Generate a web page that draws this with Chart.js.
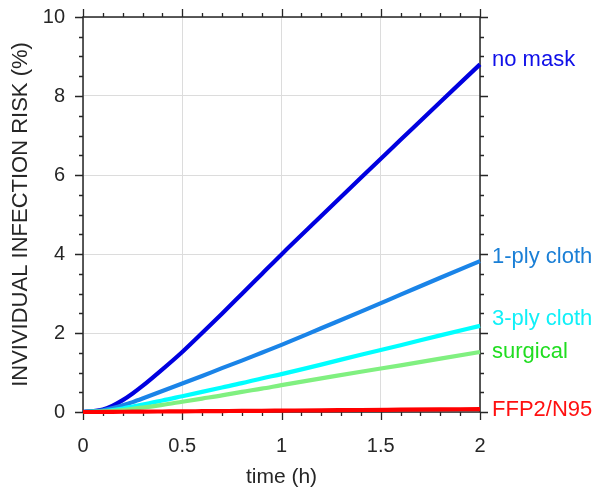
<!DOCTYPE html>
<html>
<head>
<meta charset="utf-8">
<script src="https://cdn.jsdelivr.net/npm/chart.js@4"></script>
<style>
  html, body { margin: 0; padding: 0; background: #ffffff; }
  #wrap { width: 599px; height: 490px; }
</style>
</head>
<body>
<div id="wrap"><canvas id="c" width="599" height="490"></canvas></div>
<script>
// ---- data ----
const timeH      = [0, 0.1, 0.15, 0.2, 0.25, 0.3, 0.4, 0.5, 0.6, 0.7, 0.8, 0.9, 1.0, 1.2, 1.4, 1.6, 1.8, 2.0];
const noMask     = [0, 0.06, 0.16, 0.3, 0.47, 0.66, 1.08, 1.52, 2.0, 2.49, 2.99, 3.49, 3.99, 4.96, 5.93, 6.89, 7.85, 8.8];
const ply1Cloth  = [0, 0.04, 0.1, 0.17, 0.25, 0.34, 0.53, 0.72, 0.91, 1.11, 1.3, 1.5, 1.7, 2.12, 2.54, 2.97, 3.4, 3.82];
const ply3Cloth  = [0, 0.02, 0.05, 0.09, 0.14, 0.19, 0.29, 0.4, 0.51, 0.62, 0.73, 0.85, 0.96, 1.2, 1.45, 1.69, 1.94, 2.18];
const surgical   = [0, 0.01, 0.03, 0.05, 0.08, 0.11, 0.18, 0.26, 0.34, 0.42, 0.51, 0.59, 0.68, 0.85, 1.02, 1.18, 1.35, 1.52];
const ffp2N95    = [0, 0.002, 0.004, 0.006, 0.008, 0.01, 0.013, 0.016, 0.02, 0.024, 0.028, 0.031, 0.035, 0.043, 0.05, 0.058, 0.066, 0.074];
const seriesNames = ['no mask', '1-ply cloth', '3-ply cloth', 'surgical', 'FFP2/N95'];
const xTickLabels = ['0', '0.5', '1', '1.5', '2'];
const yTickLabels = ['0', '2', '4', '6', '8', '10'];

// ---- styles ----
const lineColors  = ['#0000e0', '#1a84e8', '#00ffff', '#80f080', '#ff0000'];
const labelColors = ['#1010e8', '#1a7fd6', '#10f0f8', '#20dd20', '#ff1010'];
const labelNudge  = [-4, -4, -7, 0, 1];
const drawOrder   = [4, 3, 2, 1, 0];
const allSeries   = [noMask, ply1Cloth, ply3Cloth, surgical, ffp2N95];

const FONT = "'Liberation Sans', Arial, Helvetica, sans-serif";
const AXIS_COLOR = '#262626';

const datasets = allSeries.map((vals, i) => ({
  label: seriesNames[i],
  data: timeH.map((t, k) => ({ x: t, y: vals[k] })),
  borderColor: lineColors[i],
  backgroundColor: lineColors[i],
  borderWidth: 4.2,
  pointRadius: 0,
  fill: false,
  cubicInterpolationMode: 'monotone',
  order: drawOrder[i],
  clip: 4
}));

const framePlugin = {
  id: 'frameTicks',
  beforeDatasetsDraw(chart) {
    const { ctx, chartArea: a, scales: { x, y } } = chart;
    ctx.save();
    ctx.strokeStyle = AXIS_COLOR;
    ctx.lineWidth = 1.5;
    ctx.strokeRect(a.left, a.top, a.right - a.left, a.bottom - a.top);
    ctx.lineWidth = 1.3;
    ctx.beginPath();
    for (let k = 0; k <= 20; k++) {
      const v = k / 10;
      const px = Math.round(x.getPixelForValue(v)) + 0.5;
      const len = (k % 5 === 0) ? 8 : 4;
      ctx.moveTo(px, a.bottom); ctx.lineTo(px, a.bottom + len);
      ctx.moveTo(px, a.top); ctx.lineTo(px, a.top - len);
    }
    for (let k = 0; k <= 20; k++) {
      const v = k / 2;
      const py = Math.round(y.getPixelForValue(v)) + 0.5;
      const len = (k % 4 === 0) ? 8 : 4;
      ctx.moveTo(a.left, py); ctx.lineTo(a.left - len, py);
      ctx.moveTo(a.right, py); ctx.lineTo(a.right + len, py);
    }
    ctx.stroke();
    ctx.restore();
  },
  afterDatasetsDraw(chart) {
    const { ctx, scales: { x, y } } = chart;
    ctx.save();
    ctx.font = '22px ' + FONT;
    ctx.textAlign = 'left';
    ctx.textBaseline = 'middle';
    allSeries.forEach((vals, i) => {
      const last = vals.length - 1;
      const px = x.getPixelForValue(timeH[last]) + 12;
      const py = y.getPixelForValue(vals[last]) + labelNudge[i];
      ctx.fillStyle = labelColors[i];
      ctx.fillText(seriesNames[i], px, py);
    });
    ctx.restore();
  }
};

new Chart(document.getElementById('c'), {
  type: 'line',
  data: { datasets },
  options: {
    responsive: false,
    animation: false,
    devicePixelRatio: 1,
    layout: { padding: { left: 0, right: 119, top: 17, bottom: 0 } },
    plugins: { legend: { display: false }, tooltip: { enabled: false } },
    scales: {
      x: {
        type: 'linear', min: 0, max: 2,
        afterFit(s) { s.height = 78; s.paddingLeft = 0; s.paddingRight = 0; },
        afterBuildTicks(s) { s.ticks = xTickLabels.map(t => ({ value: parseFloat(t) })); },
        ticks: {
          callback: (v, i) => xTickLabels[i],
          font: { family: FONT, size: 20 }, color: AXIS_COLOR, padding: 22, maxRotation: 0, autoSkip: false
        },
        grid: { color: '#dcdcdc', lineWidth: 1, drawTicks: false },
        border: { display: false },
        title: { display: true, text: 'time (h)', font: { family: FONT, size: 21 }, color: AXIS_COLOR, padding: { top: 0, bottom: 0 } }
      },
      y: {
        type: 'linear', min: 0, max: 10,
        afterFit(s) { s.width = 83; s.paddingTop = 0; s.paddingBottom = 0; },
        afterBuildTicks(s) { s.ticks = yTickLabels.map(t => ({ value: parseFloat(t) })); },
        ticks: {
          callback: (v, i) => yTickLabels[i],
          font: { family: FONT, size: 20 }, color: AXIS_COLOR, padding: 18, autoSkip: false
        },
        grid: { color: '#dcdcdc', lineWidth: 1, drawTicks: false },
        border: { display: false },
        title: { display: true, text: 'INVIVIDUAL INFECTION RISK (%)', font: { family: FONT, size: 22 }, color: AXIS_COLOR, padding: { top: 8, bottom: 0 } }
      }
    }
  },
  plugins: [framePlugin]
});
</script>
</body>
</html>
